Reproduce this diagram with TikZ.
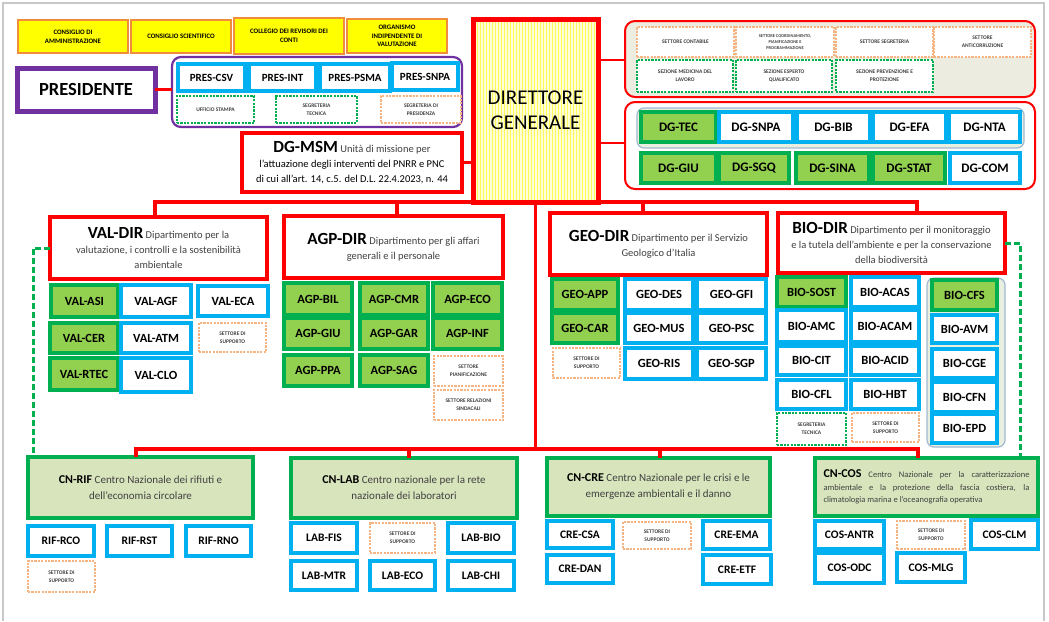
\documentclass[tikz,border=0pt]{standalone}
\usepackage{fontspec}
\setmainfont{Carlito}
\usetikzlibrary{calc}
\definecolor{cred}{RGB}{255,0,0}
\definecolor{cgreen}{RGB}{0,176,80}
\definecolor{clgreen}{RGB}{146,208,80}
\definecolor{cblue}{RGB}{0,176,240}
\definecolor{corange}{RGB}{246,180,130}
\definecolor{cpurple}{RGB}{112,48,160}
\definecolor{ccn}{RGB}{216,228,188}
\definecolor{cbeige}{RGB}{236,236,224}
\definecolor{cyel}{RGB}{255,255,0}
\definecolor{cyelbd}{RGB}{240,140,60}
\definecolor{ccont}{RGB}{233,239,222}
\definecolor{ccontbd}{RGB}{160,185,210}
\definecolor{ctext}{RGB}{64,64,64}
\definecolor{cframe}{RGB}{200,200,200}
\definecolor{cpale}{RGB}{255,255,215}
\definecolor{cstripe}{RGB}{255,250,90}
\newcommand\mkbox[7]{\node[#1, minimum width={#5-#3}, minimum height={#6-#4}] (#2) at ({(#3+#5)/2},{(#4+#6)/2}) {#7};}
\newcommand\ttl[1]{{\color{black}\bfseries\fontsize{17}{15}\selectfont #1}}
\newcommand\cnt[1]{{\color{black}\bfseries\fontsize{12}{16}\selectfont #1}}
\tikzset{
 base/.style={inner sep=0pt, outer sep=0pt, align=center},
 ybox/.style={base, draw=cyelbd, line width=2.8pt, fill=cyel, font=\bfseries\fontsize{6.8}{8.6}\selectfont},
 gbox/.style={base, draw=cgreen, fill=clgreen, line width=3.6pt, font=\bfseries\fontsize{12.5}{14}\selectfont},
 bbox/.style={base, draw=cblue, fill=white, line width=3.2pt, font=\bfseries\fontsize{12.5}{14}\selectfont},
 small/.style={font=\bfseries\fontsize{11.5}{14}\selectfont},
 dgf/.style={font=\bfseries\fontsize{13}{14}\selectfont},
 obox/.style={base, draw=corange, fill=white, line width=2.7pt, dash pattern=on 2.2pt off 1.2pt, font=\bfseries\fontsize{5.5}{8}\selectfont, text=ctext},
 gdbox/.style={obox, draw=cgreen},
 presbox/.style={base, draw=cpurple, line width=5pt, fill=white, font=\bfseries\fontsize{18.5}{20}\selectfont},
 pcont/.style={base, draw=cpurple, line width=2.2pt, rounded corners=9pt, fill=white},
 rcont/.style={base, draw=cred, line width=2pt, rounded corners=10pt},
 icont/.style={base, draw=ccontbd, line width=1.2pt, rounded corners=7pt, fill=ccont},
 dept/.style={base, draw=cred, line width=3.4pt, fill=white, font=\fontsize{10.5}{15}\selectfont, text=ctext},
 cn/.style={base, draw=cgreen, line width=3.8pt, fill=ccn, font=\fontsize{11}{16}\selectfont, text=ctext},
 rline/.style={draw=cred, line width=3.2pt},
 tline/.style={draw=cred, line width=2.2pt},
 gdash/.style={draw=cgreen, line width=3pt, dash pattern=on 6pt off 3pt},
}
\begin{document}
\begin{tikzpicture}[x=1pt,y=-1pt]
\path[use as bounding box, fill=white] (0,0) rectangle (1049,621);
\draw[cframe, line width=2pt] (3,621) -- (3,3) -- (1044,3) -- (1044,621);
% top yellow
\mkbox{ybox}{ca}{18}{20}{128}{53}{CONSIGLIO DI\\AMMINISTRAZIONE}
\mkbox{ybox}{cs}{131}{20}{231}{53}{CONSIGLIO SCIENTIFICO}
\mkbox{ybox}{cr}{234}{18}{344}{54}{COLLEGIO DEI REVISORI DEI\\CONTI}
\mkbox{ybox}{oiv}{347}{19}{447}{53}{ORGANISMO\\INDIPENDENTE DI\\VALUTAZIONE}
% presidente
\mkbox{presbox}{pres}{17}{68}{155}{111}{PRESIDENTE}
\mkbox{pcont}{presc}{172}{57}{462}{127}{}
\mkbox{bbox,font=\bfseries\fontsize{11}{13}\selectfont}{pcsv}{178}{64}{245}{91}{PRES-CSV}
\mkbox{bbox,font=\bfseries\fontsize{11}{13}\selectfont}{pint}{249}{64}{316}{91}{PRES-INT}
\mkbox{bbox,font=\bfseries\fontsize{11}{13}\selectfont}{psma}{320}{64}{390}{91}{PRES-PSMA}
\mkbox{bbox,font=\bfseries\fontsize{11}{13}\selectfont}{psnpa}{392}{63}{458}{90}{PRES-SNPA}
\mkbox{gdbox}{ust}{177}{96}{254}{123}{UFFICIO STAMPA}
\mkbox{gdbox}{stec}{276}{96}{357}{123}{SEGRETERIA\\TECNICA}
\mkbox{obox}{spres}{381}{96}{461}{123}{SEGRETERIA DI\\PRESIDENZA}
\draw[tline] (pres.east) -- (presc.west |- pres.east);
% DG-MSM
\mkbox{dept,text=black}{msm}{242}{133}{462}{192}{\ttl{DG-MSM} {\color{ctext}Unità di missione per}\\l'attuazione degli interventi del PNRR e PNC\\di cui all'art. 14, c.5. del D.L. 22.4.2023, n. 44}
% Direttore generale
\node[base, draw=cred, line width=5pt, fill=cpale, minimum width=125, minimum height=183,
  font=\fontsize{21}{25}\selectfont,
  path picture={\foreach \i in {1.5,4.5,...,130} \draw[cstripe, line width=1.3pt] ([xshift=\i pt]path picture bounding box.north west) -- ([xshift=\i pt]path picture bounding box.south west);}]
  (dg) at (535.5,110.5) {DIRETTORE\\GENERALE};
\draw[tline] (msm.east) -- (dg.west |- msm.east);
% top-right containers
\mkbox{rcont,fill=cbeige}{tr1}{625}{21}{1035}{97}{}
\mkbox{obox}{sc}{637}{27}{734}{57}{SETTORE CONTABILE}
\mkbox{obox,font=\bfseries\fontsize{4.4}{6}\selectfont}{scp}{736}{27}{834}{57}{SETTORE COORDINAMENTO,\\PIANIFICAZIONE E\\PROGRAMMAZIONE}
\mkbox{obox}{sseg}{836}{27}{933}{57}{SETTORE SEGRETERIA}
\mkbox{obox}{santi}{934}{27}{1031}{57}{SETTORE\\ANTICORRUZIONE}
\mkbox{gdbox}{smed}{637}{60}{733}{92}{SEZIONE MEDICINA DEL\\LAVORO}
\mkbox{gdbox}{sesp}{736}{60}{832}{92}{SEZIONE ESPERTO\\QUALIFICATO}
\mkbox{gdbox}{sprev}{836}{60}{933}{92}{SEZIONE PREVENZIONE E\\PROTEZIONE}
\mkbox{rcont,fill=white}{tr2}{625}{102}{1035}{189}{}
\mkbox{icont}{dgc}{637}{108}{1024}{148}{}
\mkbox{gbox,dgf}{dgtec}{641}{112}{716}{142}{DG-TEC}
\mkbox{bbox,dgf}{dgsnpa}{719}{112}{793}{142}{DG-SNPA}
\mkbox{bbox,dgf}{dgbib}{797}{112}{870}{142}{DG-BIB}
\mkbox{bbox,dgf}{dgefa}{873}{112}{946}{142}{DG-EFA}
\mkbox{bbox,dgf}{dgnta}{949}{112}{1020}{142}{DG-NTA}
\mkbox{gbox,dgf}{dggiu}{641}{153}{716}{183}{DG-GIU}
\mkbox{gbox,dgf}{dgsgq}{719}{153}{789}{183}{DG-SGQ}
\mkbox{gbox,dgf}{dgsina}{796}{153}{869}{183}{DG-SINA}
\mkbox{gbox,dgf}{dgstat}{873}{153}{945}{183}{DG-STAT}
\mkbox{bbox,dgf}{dgcom}{950}{153}{1020}{183}{DG-COM}
\coordinate (r1) at (0,60);
\coordinate (r2) at (0,143);
\draw[tline] (dg.east |- r1) -- (tr1.west |- r1);
\draw[tline] (dg.east |- r2) -- (tr2.west |- r2);
% departments
\mkbox{dept}{valdir}{50}{217}{267}{279}{\ttl{VAL-DIR} Dipartimento per la\\valutazione, i controlli e la sostenibilità\\ambientale}
\mkbox{dept}{agpdir}{284}{216}{503}{278}{\ttl{AGP-DIR} Dipartimento per gli affari\\generali e il personale}
\mkbox{dept}{geodir}{550}{213}{767}{275}{\ttl{GEO-DIR} Dipartimento per il Servizio\\Geologico d’Italia}
\mkbox{dept}{biodir}{778}{213}{1005}{273}{\ttl{BIO-DIR} Dipartimento per il monitoraggio\\e la tutela dell’ambiente e per la conservazione\\della biodiversità}
% VAL
\mkbox{gbox}{valasi}{51}{285}{118}{317}{VAL-ASI}
\mkbox{bbox}{valagf}{121}{285}{191}{317}{VAL-AGF}
\mkbox{bbox}{valeca}{198}{286}{268}{316}{VAL-ECA}
\mkbox{gbox}{valcer}{50}{323}{118}{353}{VAL-CER}
\mkbox{bbox}{valatm}{121}{323}{191}{353}{VAL-ATM}
\mkbox{obox}{valsup}{199}{323}{266}{352}{SETTORE DI\\SUPPORTO}
\mkbox{gbox}{valrtec}{50}{358}{118}{390}{VAL-RTEC}
\mkbox{bbox}{valclo}{121}{358}{191}{392}{VAL-CLO}
% AGP
\mkbox{gbox}{agpbil}{284}{283}{352}{315}{AGP-BIL}
\mkbox{gbox}{agpcmr}{360}{283}{428}{315}{AGP-CMR}
\mkbox{gbox}{agpeco}{433}{283}{502}{315}{AGP-ECO}
\mkbox{gbox}{agpgiu}{284}{318}{352}{349}{AGP-GIU}
\mkbox{gbox}{agpgar}{360}{318}{428}{349}{AGP-GAR}
\mkbox{gbox}{agpinf}{433}{318}{502}{349}{AGP-INF}
\mkbox{gbox}{agpppa}{284}{355}{352}{386}{AGP-PPA}
\mkbox{gbox}{agpsag}{360}{355}{428}{386}{AGP-SAG}
\mkbox{obox}{agppia}{434}{356}{503}{386}{SETTORE\\PIANIFICAZIONE}
\mkbox{obox}{agprel}{434}{390}{503}{420}{SETTORE RELAZIONI\\SINDACALI}
% GEO
\mkbox{gbox}{geoapp}{552}{279}{618}{310}{GEO-APP}
\mkbox{bbox}{geodes}{625}{279}{693}{310}{GEO-DES}
\mkbox{bbox}{geogfi}{697}{279}{766}{310}{GEO-GFI}
\mkbox{gbox}{geocar}{552}{313}{618}{343}{GEO-CAR}
\mkbox{bbox}{geomus}{625}{313}{693}{343}{GEO-MUS}
\mkbox{bbox}{geopsc}{697}{313}{766}{343}{GEO-PSC}
\mkbox{obox}{geosup}{553}{348}{620}{378}{SETTORE DI\\SUPPORTO}
\mkbox{bbox}{georis}{625}{348}{693}{379}{GEO-RIS}
\mkbox{bbox}{geosgp}{697}{348}{766}{379}{GEO-SGP}
% BIO
\mkbox{gbox}{biosost}{777}{277}{846}{307}{BIO-SOST}
\mkbox{bbox}{bioacas}{851}{277}{919}{307}{BIO-ACAS}
\mkbox{bbox}{bioamc}{777}{310}{846}{342}{BIO-AMC}
\mkbox{bbox}{bioacam}{851}{310}{919}{342}{BIO-ACAM}
\mkbox{bbox}{biocit}{777}{346}{846}{375}{BIO-CIT}
\mkbox{bbox}{bioacid}{851}{346}{919}{375}{BIO-ACID}
\mkbox{bbox}{biocfl}{777}{380}{846}{409}{BIO-CFL}
\mkbox{bbox}{biohbt}{851}{380}{919}{409}{BIO-HBT}
\mkbox{gdbox}{bioseg}{777}{413}{846}{445}{SEGRETERIA\\TECNICA}
\mkbox{obox}{biosup}{852}{413}{919}{442}{SETTORE DI\\SUPPORTO}
\mkbox{icont}{bioc}{927}{278}{1005}{447}{}
\mkbox{gbox}{biocfs}{932}{280}{997}{310}{BIO-CFS}
\mkbox{bbox}{bioavm}{932}{315}{997}{343}{BIO-AVM}
\mkbox{bbox}{biocge}{932}{349}{997}{378}{BIO-CGE}
\mkbox{bbox}{biocfn}{932}{382}{997}{412}{BIO-CFN}
\mkbox{bbox}{bioepd}{932}{414}{997}{443}{BIO-EPD}
% centres
\mkbox{cn}{cnrif}{28}{457}{253}{518}{\cnt{CN-RIF} Centro Nazionale dei rifiuti e\\dell’economia circolare}
\mkbox{cn}{cnlab}{291}{458}{517}{518}{\cnt{CN-LAB} Centro nazionale per la rete\\nazionale dei laboratori}
\mkbox{cn}{cncre}{547}{458}{770}{516}{\cnt{CN-CRE} Centro Nazionale per le crisi e le\\emergenze ambientali e il danno}
\mkbox{cn,font=\fontsize{8.5}{12.5}\selectfont}{cncos}{815}{458}{1038}{516}{\makebox[206pt][s]{\cnt{CN-COS} Centro Nazionale per la caratterizzazione}\\\makebox[206pt][s]{ambientale e la protezione della fascia costiera, la}\\\makebox[206pt][l]{climatologia marina e l'oceanografia operativa}}
% RIF
\mkbox{bbox,small}{rifrco}{28}{526}{94}{556}{RIF-RCO}
\mkbox{bbox,small}{rifrst}{107}{526}{172}{556}{RIF-RST}
\mkbox{bbox,small}{rifrno}{186}{526}{251}{556}{RIF-RNO}
\mkbox{obox}{rifsup}{28}{561}{95}{592}{SETTORE DI\\SUPPORTO}
% LAB
\mkbox{bbox,small}{labfis}{291}{523}{357}{553}{LAB-FIS}
\mkbox{obox}{labsup}{370}{523}{435}{553}{SETTORE DI\\SUPPORTO}
\mkbox{bbox,small}{labbio}{448}{523}{514}{553}{LAB-BIO}
\mkbox{bbox,small}{labmtr}{291}{561}{357}{590}{LAB-MTR}
\mkbox{bbox,small}{labeco}{370}{561}{435}{590}{LAB-ECO}
\mkbox{bbox,small}{labchi}{448}{561}{514}{590}{LAB-CHI}
% CRE
\mkbox{bbox,small}{crecsa}{547}{521}{613}{548}{CRE-CSA}
\mkbox{obox}{cresup}{623}{522}{691}{549}{SETTORE DI\\SUPPORTO}
\mkbox{bbox,small}{creema}{703}{521}{770}{549}{CRE-EMA}
\mkbox{bbox,small}{credan}{547}{555}{613}{583}{CRE-DAN}
\mkbox{bbox,small}{creetf}{703}{555}{771}{584}{CRE-ETF}
% COS
\mkbox{bbox,small}{cosantr}{815}{521}{884}{549}{COS-ANTR}
\mkbox{obox}{cossup}{897}{521}{965}{549}{SETTORE DI\\SUPPORTO}
\mkbox{bbox,small}{cosclm}{971}{520}{1038}{549}{COS-CLM}
\mkbox{bbox,small}{cosodc}{815}{553}{884}{583}{COS-ODC}
\mkbox{bbox,small}{cosmlg}{897}{553}{965}{582}{COS-MLG}
% connectors
\coordinate (u1) at (155,202);
\coordinate (u2) at (397,202);
\coordinate (u3) at (643,202);
\coordinate (u4) at (917,202);
\coordinate (l1) at (136,449);
\coordinate (l2) at (409,449);
\coordinate (l3) at (660,449);
\coordinate (l4) at (918,449);
\draw[rline] (u1 |- valdir.north) -- (u1) -- (u4) -- (u4 |- biodir.north);
\draw[rline] (u2) -- (u2 |- agpdir.north);
\draw[rline] (u3) -- (u3 |- geodir.north);
\draw[rline] (dg.south) -- (dg.south |- l1);
\draw[rline] (l1 |- cnrif.north) -- (l1) -- (l4) -- (l4 |- cncos.north);
\draw[rline] (l2) -- (l2 |- cnlab.north);
\draw[rline] (l3) -- (l3 |- cncre.north);
\coordinate (gl) at (33,0);
\coordinate (gr) at (1020,0);
\draw[gdash] (valdir.west) -| (gl |- cnrif.north);
\draw[gdash] (biodir.east) -| (gr |- cncos.north);
\end{tikzpicture}
\end{document}
